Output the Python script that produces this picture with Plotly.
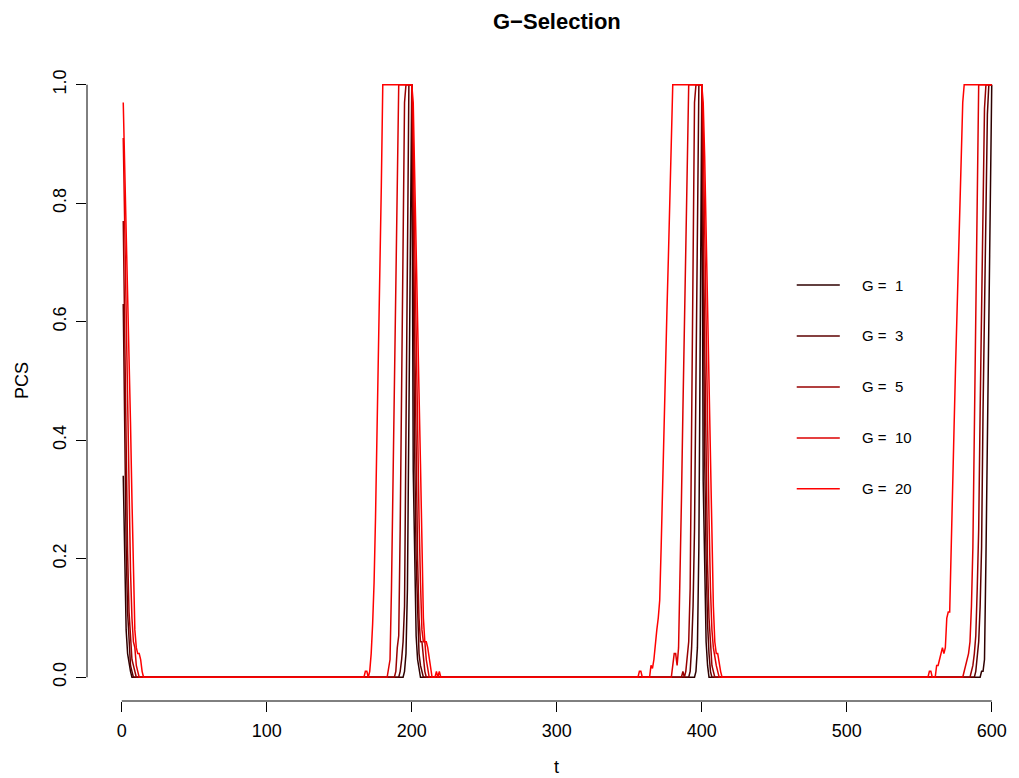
import plotly.graph_objects as go

# ---------------- data ----------------
series_labels = ["G =  1", "G =  3", "G =  5", "G =  10", "G =  20"]
series_colors = ["#2e0000", "#5c0000", "#990000", "#dd0000", "#ff0000"]

t_g1 = [1, 2, 3, 4, 5, 6, 7,
        194, 195, 196, 197, 198, 199, 200,
        201, 202, 203, 204, 205, 206,
        395, 396, 397, 398, 399, 400,
        401, 402, 403, 404, 405,
        592, 593, 594, 595, 596, 597, 598, 599, 600]
pcs_g1 = [0.34, 0.18, 0.08, 0.04, 0.02, 0.01, 0,
          0, 0.01, 0.04, 0.15, 0.45, 0.8, 1.0,
          0.35, 0.17, 0.07, 0.03, 0.01, 0,
          0, 0.01, 0.05, 0.22, 0.6, 0.98,
          0.33, 0.15, 0.06, 0.02, 0,
          0, 0.01, 0.01, 0.03, 0.2, 0.42, 0.63, 0.83, 1.0]

t_g3 = [1, 2, 3, 4, 5, 6, 7, 8,
        191, 192, 193, 194, 195, 196, 197, 198, 200,
        201, 202, 203, 204, 205, 206, 207, 208,
        391, 392, 393, 394, 395, 396, 397, 398, 400,
        401, 402, 403, 404, 405, 406, 407,
        588, 589, 590, 591, 592, 593, 594, 595, 596, 597, 598, 600]
pcs_g3 = [0.63, 0.4, 0.22, 0.11, 0.05, 0.02, 0.01, 0,
          0, 0.01, 0.03, 0.06, 0.12, 0.4, 0.8, 1.0, 1.0,
          0.62, 0.38, 0.2, 0.1, 0.04, 0.02, 0.01, 0,
          0, 0.01, 0.05, 0.12, 0.25, 0.55, 0.85, 1.0, 1.0,
          0.6, 0.37, 0.2, 0.09, 0.04, 0.01, 0,
          0, 0.01, 0.03, 0.06, 0.12, 0.22, 0.45, 0.65, 0.82, 0.95, 1.0, 1.0]

t_g5 = [1, 2, 3, 4, 5, 6, 7, 8, 9, 10,
        188, 189, 190, 191, 192, 193, 194, 195, 196, 200,
        201, 202, 203, 204, 205, 206, 207, 208, 209, 210,
        386, 387, 388, 389, 390, 391, 392, 393, 394, 395, 396, 400,
        401, 402, 403, 404, 405, 406, 407, 408, 409,
        585, 586, 587, 588, 589, 590, 591, 592, 593, 594, 595, 596, 600]
pcs_g5 = [0.77, 0.55, 0.36, 0.21, 0.11, 0.06, 0.03, 0.02, 0.01, 0,
          0, 0.01, 0.05, 0.07, 0.25, 0.5, 0.75, 0.97, 1.0, 1.0,
          0.78, 0.55, 0.35, 0.2, 0.1, 0.06, 0.06, 0.03, 0.01, 0,
          0, 0.01, 0, 0.01, 0.03, 0.06, 0.15, 0.45, 0.75, 0.97, 1.0, 1.0,
          0.76, 0.54, 0.34, 0.19, 0.1, 0.05, 0.02, 0.01, 0,
          0, 0.01, 0.02, 0.04, 0.07, 0.15, 0.25, 0.45, 0.65, 0.83, 0.96, 1.0, 1.0]

t_g10 = [1, 2, 3, 4, 5, 6, 7, 8, 9, 10, 11, 12,
         183, 184, 185, 186, 187, 188, 189, 190, 191, 200,
         201, 202, 203, 204, 205, 206, 207, 208, 209, 210, 211, 212,
         379, 380, 381, 382, 383, 384, 385, 386, 387, 388, 389, 390, 391, 400,
         401, 402, 403, 404, 405, 406, 407, 408, 409, 410, 411, 412,
         580, 581, 582, 583, 584, 585, 586, 587, 588, 589, 590, 591, 600]
pcs_g10 = [0.91, 0.76, 0.58, 0.43, 0.29, 0.18, 0.1, 0.06, 0.05, 0.02, 0.01, 0,
           0, 0.02, 0.03, 0.15, 0.33, 0.52, 0.7, 0.9, 1.0, 1.0,
           0.9, 0.74, 0.56, 0.4, 0.27, 0.16, 0.08, 0.06, 0.06, 0.03, 0.01, 0,
           0, 0.02, 0.04, 0.04, 0.02, 0.05, 0.15, 0.3, 0.45, 0.6, 0.75, 0.9, 1.0, 1.0,
           0.92, 0.76, 0.57, 0.41, 0.27, 0.15, 0.08, 0.05, 0.03, 0.02, 0.01, 0,
           0, 0.01, 0.02, 0.03, 0.04, 0.06, 0.12, 0.22, 0.42, 0.63, 0.85, 1.0, 1.0]

t_g20 = [1, 2, 3, 4, 5, 6, 7, 8, 9, 10, 11, 12, 13, 14, 15,
         167, 168, 169, 170, 171, 172, 173, 174, 175, 176, 177, 178, 179, 180, 200,
         201, 202, 203, 204, 205, 206, 207, 208, 209, 210, 211, 212, 213, 214,
         216, 217, 218, 219, 220,
         356, 357, 358, 359, 364, 365, 366, 367, 368, 369, 370, 371, 372, 373, 374,
         375, 376, 377, 378, 379, 380, 400,
         401, 402, 403, 404, 405, 406, 407, 408, 409, 410, 411, 412, 413, 414,
         556, 557, 558, 559, 561, 562, 563, 564, 565, 566, 567, 568, 569, 570, 571,
         572, 573, 574, 575, 576, 577, 578, 579, 580, 581, 600]
pcs_g20 = [0.97, 0.87, 0.74, 0.62, 0.52, 0.43, 0.3, 0.17, 0.08, 0.05, 0.04, 0.04, 0.03, 0.01, 0,
           0, 0.01, 0.01, 0, 0.01, 0.04, 0.09, 0.16, 0.27, 0.4, 0.54, 0.68, 0.83, 1.0, 1.0,
           0.97, 0.86, 0.72, 0.6, 0.48, 0.36, 0.22, 0.1, 0.06, 0.06, 0.05, 0.03, 0.01, 0,
           0, 0.01, 0, 0.01, 0,
           0, 0.01, 0.01, 0, 0, 0.02, 0.015, 0.03, 0.06, 0.08, 0.1, 0.13, 0.22, 0.33, 0.43,
           0.52, 0.62, 0.71, 0.8, 0.9, 1.0, 1.0,
           0.97, 0.88, 0.75, 0.61, 0.5, 0.38, 0.25, 0.12, 0.06, 0.04, 0.04, 0.02, 0.01, 0,
           0, 0.01, 0.01, 0, 0, 0.02, 0.02, 0.03, 0.04, 0.05, 0.04, 0.05, 0.1, 0.11, 0.11,
           0.2, 0.31, 0.42, 0.52, 0.62, 0.72, 0.82, 0.9, 0.97, 1.0, 1.0]

series_t = [t_g1, t_g3, t_g5, t_g10, t_g20]
series_pcs = [pcs_g1, pcs_g3, pcs_g5, pcs_g10, pcs_g20]

x_ticks = [0, 100, 200, 300, 400, 500, 600]
y_ticks = [0.0, 0.2, 0.4, 0.6, 0.8, 1.0]
y_ticktext = ["0.0", "0.2", "0.4", "0.6", "0.8", "1.0"]

legend_y = [0.662, 0.576, 0.490, 0.404, 0.318]

FONT = "Liberation Sans, Arial, Helvetica, sans-serif"

# ---------------- figure ----------------
fig = go.Figure()
for t, p, c, lab in zip(series_t, series_pcs, series_colors, series_labels):
    fig.add_trace(go.Scatter(x=t, y=p, mode="lines", name=lab,
                             line=dict(color=c, width=1.5), showlegend=False,
                             hoverinfo="skip"))

shapes = [
    dict(type="line", xref="x", yref="paper", x0=0, x1=600, y0=0, y1=0,
         line=dict(color="black", width=1)),
    dict(type="line", xref="paper", yref="y", x0=0, x1=0, y0=0, y1=1,
         line=dict(color="black", width=1)),
]
annotations = [
    dict(text="<b>G\u2212Selection</b>", xref="x", yref="paper", x=300,
         y=1 + (61 - 22) / 640, showarrow=False, xanchor="center", yanchor="middle",
         font=dict(family=FONT, size=22, color="black")),
    dict(text="t", xref="x", yref="paper", x=300, y=-(767 - 701) / 640,
         showarrow=False, xanchor="center", yanchor="middle",
         font=dict(family=FONT, size=18, color="black")),
    dict(text="PCS", xref="paper", yref="y", x=(22 - 87) / 932, y=0.5,
         showarrow=False, xanchor="center", yanchor="middle", textangle=-90,
         font=dict(family=FONT, size=18, color="black")),
]
for lab, c, ly in zip(series_labels, series_colors, legend_y):
    shapes.append(dict(type="line", xref="x", yref="y", x0=465.5, x1=495.2,
                       y0=ly, y1=ly, line=dict(color=c, width=1.5)))
    annotations.append(dict(text=lab, xref="x", yref="y", x=509, y=ly,
                            showarrow=False, xanchor="left", yanchor="middle",
                            font=dict(family=FONT, size=15, color="black")))

fig.update_layout(
    width=1019, height=778,
    margin=dict(l=87, r=0, t=61, b=77),
    paper_bgcolor="white", plot_bgcolor="white",
    font=dict(family=FONT, size=18, color="black"),
    shapes=shapes, annotations=annotations,
    xaxis=dict(range=[-24, 618.8], tickmode="array", tickvals=x_ticks,
               ticks="outside", ticklen=10, tickwidth=1, tickcolor="black",
               ticklabelstandoff=3,
               showline=False, showgrid=False, zeroline=False,
               tickfont=dict(family=FONT, size=18, color="black")),
    yaxis=dict(range=[-0.04, 1.04], tickmode="array", tickvals=y_ticks,
               ticktext=y_ticktext, tickangle=-90,
               ticks="outside", ticklen=10, tickwidth=1, tickcolor="black",
               ticklabelstandoff=3,
               showline=False, showgrid=False, zeroline=False,
               tickfont=dict(family=FONT, size=18, color="black")),
)

fig.write_html("out.html")
